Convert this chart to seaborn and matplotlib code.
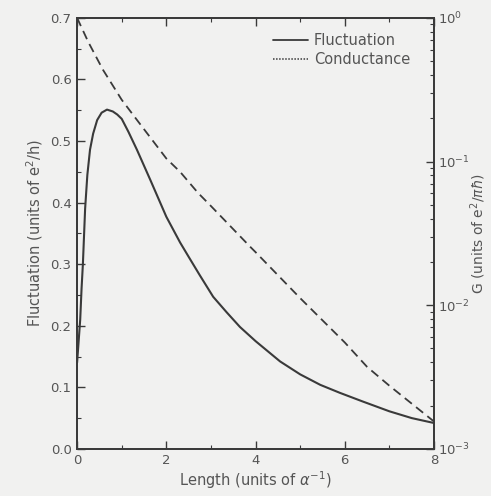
import numpy as np
import pandas as pd
import matplotlib
matplotlib.use("Agg")
import matplotlib.pyplot as plt
from matplotlib.lines import Line2D
from matplotlib.ticker import MultipleLocator, LogLocator, NullFormatter, FormatStrFormatter
import seaborn as sns

# Conductance fluctuation vs. sample length
fluct_length = [0.0, 0.03, 0.07, 0.10, 0.13, 0.18, 0.23, 0.29, 0.36, 0.45, 0.55, 0.67,
                0.80, 0.90, 1.0, 1.15, 1.34, 1.64, 2.0, 2.31, 2.5, 2.75, 3.05, 3.35,
                3.65, 4.0, 4.3, 4.55, 5.0, 5.45, 5.89, 6.4, 7.0, 7.5, 8.0]
fluct_value = [0.14, 0.17, 0.21, 0.26, 0.30, 0.39, 0.445, 0.486, 0.512, 0.534, 0.546, 0.551,
               0.548, 0.543, 0.536, 0.515, 0.486, 0.437, 0.377, 0.335, 0.312, 0.282, 0.247, 0.222,
               0.198, 0.175, 0.157, 0.142, 0.121, 0.104, 0.091, 0.077, 0.061, 0.050, 0.042]

# Mean conductance vs. sample length (log scale)
cond_length = [0.0, 0.25, 0.58, 1.0, 1.34, 2.0, 2.31, 2.71, 3.0, 3.88, 4.0, 5.0, 6.0, 6.5, 7.0, 8.0]
cond_value = [1.0, 0.68, 0.435, 0.269, 0.195, 0.105, 0.0847, 0.0605, 0.049, 0.0255, 0.0234,
              0.0112, 0.0055, 0.00372, 0.00275, 0.00155]

sns.set_theme(style="ticks")
plt.rcParams["font.family"] = ["DejaVu Sans"]
plt.rcParams["mathtext.fontset"] = "dejavusans"

ink = "#3a3a3a"
text_ink = "#555555"
bg = "#f1f1f0"

fluct_df = pd.DataFrame({"Length": fluct_length, "Fluctuation": fluct_value})
cond_df = pd.DataFrame({"Length": cond_length, "G": cond_value})

fig = plt.figure(figsize=(4.91, 4.96), dpi=100, facecolor=bg)
ax = fig.add_axes([0.157, 0.095, 0.727, 0.869])
ax.set_facecolor(bg)
ax2 = ax.twinx()

sns.lineplot(data=fluct_df, x="Length", y="Fluctuation", ax=ax, color=ink,
             linewidth=1.5, estimator=None, sort=False)
sns.lineplot(data=cond_df, x="Length", y="G", ax=ax2, color=ink,
             linewidth=1.3, estimator=None, sort=False,
             linestyle=(0, (5, 3)), dash_capstyle="butt")

ax.set_xlim(0, 8)
ax.set_ylim(0, 0.7)
ax2.set_yscale("log")
ax2.set_ylim(1e-3, 1)

ax.xaxis.set_major_locator(MultipleLocator(2))
ax.xaxis.set_minor_locator(MultipleLocator(1))
ax.yaxis.set_major_locator(MultipleLocator(0.1))
ax.yaxis.set_minor_locator(MultipleLocator(0.05))
ax.yaxis.set_major_formatter(FormatStrFormatter("%.1f"))
ax2.yaxis.set_major_locator(LogLocator(base=10, numticks=10))
ax2.yaxis.set_minor_locator(LogLocator(base=10, subs=np.arange(2, 10), numticks=10))
ax2.yaxis.set_minor_formatter(NullFormatter())

for a in (ax, ax2):
    for s in a.spines.values():
        s.set_color(ink)
        s.set_linewidth(1.3)
        s.set_visible(True)

ax.tick_params(axis="both", which="both", direction="in", colors=ink,
               labelcolor=text_ink, labelsize=9.5, top=True, pad=4)
ax.tick_params(axis="both", which="major", length=6, width=1.0)
ax.tick_params(axis="both", which="minor", length=3, width=0.8)
ax2.tick_params(axis="y", which="both", direction="in", colors=ink,
                labelcolor=text_ink, labelsize=9.5, pad=3)
ax2.tick_params(axis="y", which="major", length=6, width=1.0)
ax2.tick_params(axis="y", which="minor", length=3, width=0.8)

ax.set_xlabel("Length (units of $\\alpha^{-1}$)", fontsize=10.5, color=text_ink, labelpad=1)
ax.set_ylabel("Fluctuation (units of e$^{2}$/h)", fontsize=10.5, color=text_ink, labelpad=4)
ax2.set_ylabel("G (units of e$^{2}$/$\\pi\\hbar$)", fontsize=10, color=text_ink, labelpad=-1)

handles = [Line2D([], [], color=ink, linewidth=1.3),
           Line2D([], [], color=ink, linewidth=1.1, linestyle=(0, (1, 1)))]
leg = ax2.legend(handles, ["Fluctuation", "Conductance"], loc="upper right",
                 frameon=False, fontsize=10.5, handlelength=2.4, handletextpad=0.4,
                 labelspacing=0.25, bbox_to_anchor=(0.97, 0.995))
for t in leg.get_texts():
    t.set_color(text_ink)

fig.savefig("out.png", dpi=100, facecolor=bg)
